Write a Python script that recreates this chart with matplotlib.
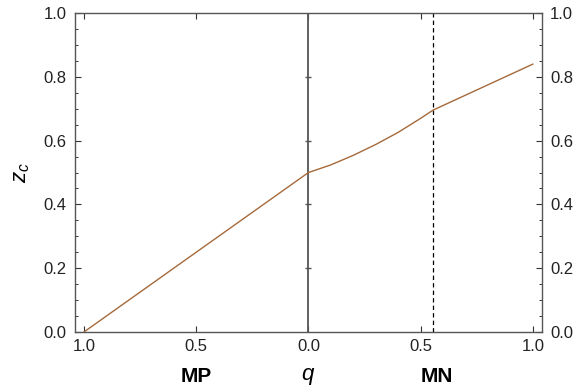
import numpy as np
import matplotlib
matplotlib.use("Agg")
import matplotlib.pyplot as plt

plt.rcParams['font.family'] = ['Liberation Sans', 'DejaVu Sans']
plt.rcParams['mathtext.fontset'] = 'custom'
plt.rcParams['mathtext.it'] = 'Liberation Sans:italic'
plt.rcParams['mathtext.rm'] = 'Liberation Sans'

# critical z_c against q (MP side on the left, MN side on the right)
q_vals = [-1.0, 0.0, 0.1, 0.2, 0.3, 0.4, 0.5, 0.556, 1.0]
zc_vals = [0.0, 0.5, 0.524, 0.554, 0.588, 0.626, 0.670, 0.696, 0.84]

x_ticks = [-1.0, -0.5, 0.0, 0.5, 1.0]
x_tick_labels = ["1.0", "0.5", "0.0", "0.5", "1.0"]
y_ticks = [0.0, 0.2, 0.4, 0.6, 0.8, 1.0]
center_ticks = [0.2, 0.4, 0.6, 0.8]
mn_line = 0.556

fig = plt.figure(figsize=(5.77, 3.86), dpi=100)
ax = fig.add_axes([0.130, 0.140, 0.809, 0.826])

ax.plot(q_vals, zc_vals, color='#a5693a', lw=1.0, zorder=3)

# central axis at q = 0 with its own small ticks
ax.axvline(0.0, color='#555555', lw=1.3, zorder=2)
ax.plot(np.zeros(len(center_ticks)), center_ticks, ls='none', marker='_',
        ms=5, mew=1.0, color='#555555', zorder=2)

# dashed boundary line
ax.axvline(mn_line, color='black', lw=0.9, ls=(0, (3.5, 2.5)), zorder=2)

ax.set_xlim(-1.04, 1.04)
ax.set_ylim(0, 1)
ax.set_xticks(x_ticks)
ax.set_xticklabels(x_tick_labels)
ax.set_yticks(y_ticks)
ax.set_yticks(np.arange(0, 1.001, 0.05), minor=True)
ax.yaxis.set_major_formatter(plt.FormatStrFormatter('%.1f'))

ax.tick_params(axis='both', which='major', direction='in', length=4,
               width=0.8, color='#333333', labelsize=12, labelcolor='#222222')
ax.tick_params(axis='y', which='minor', direction='in', length=2.5,
               width=0.7, color='#333333')
ax.tick_params(axis='x', top=True, bottom=True, pad=5)
ax.tick_params(axis='y', which='both', left=True, right=True,
               labelleft=True, labelright=True, pad=6)

for s in ax.spines.values():
    s.set_color('#555555')
    s.set_linewidth(1.0)

ax.set_ylabel(r'$z_c$', fontsize=16, labelpad=8)

ax.text(-0.5, -0.139, 'MP', transform=ax.get_xaxis_transform(), ha='center',
        va='center', fontsize=15, fontweight='bold')
ax.text(0.0, -0.139, r'$q$', transform=ax.get_xaxis_transform(), ha='center',
        va='center', fontsize=16)
ax.text(0.57, -0.139, 'MN', transform=ax.get_xaxis_transform(), ha='center',
        va='center', fontsize=15, fontweight='bold')

fig.savefig('out.png', dpi=100)
